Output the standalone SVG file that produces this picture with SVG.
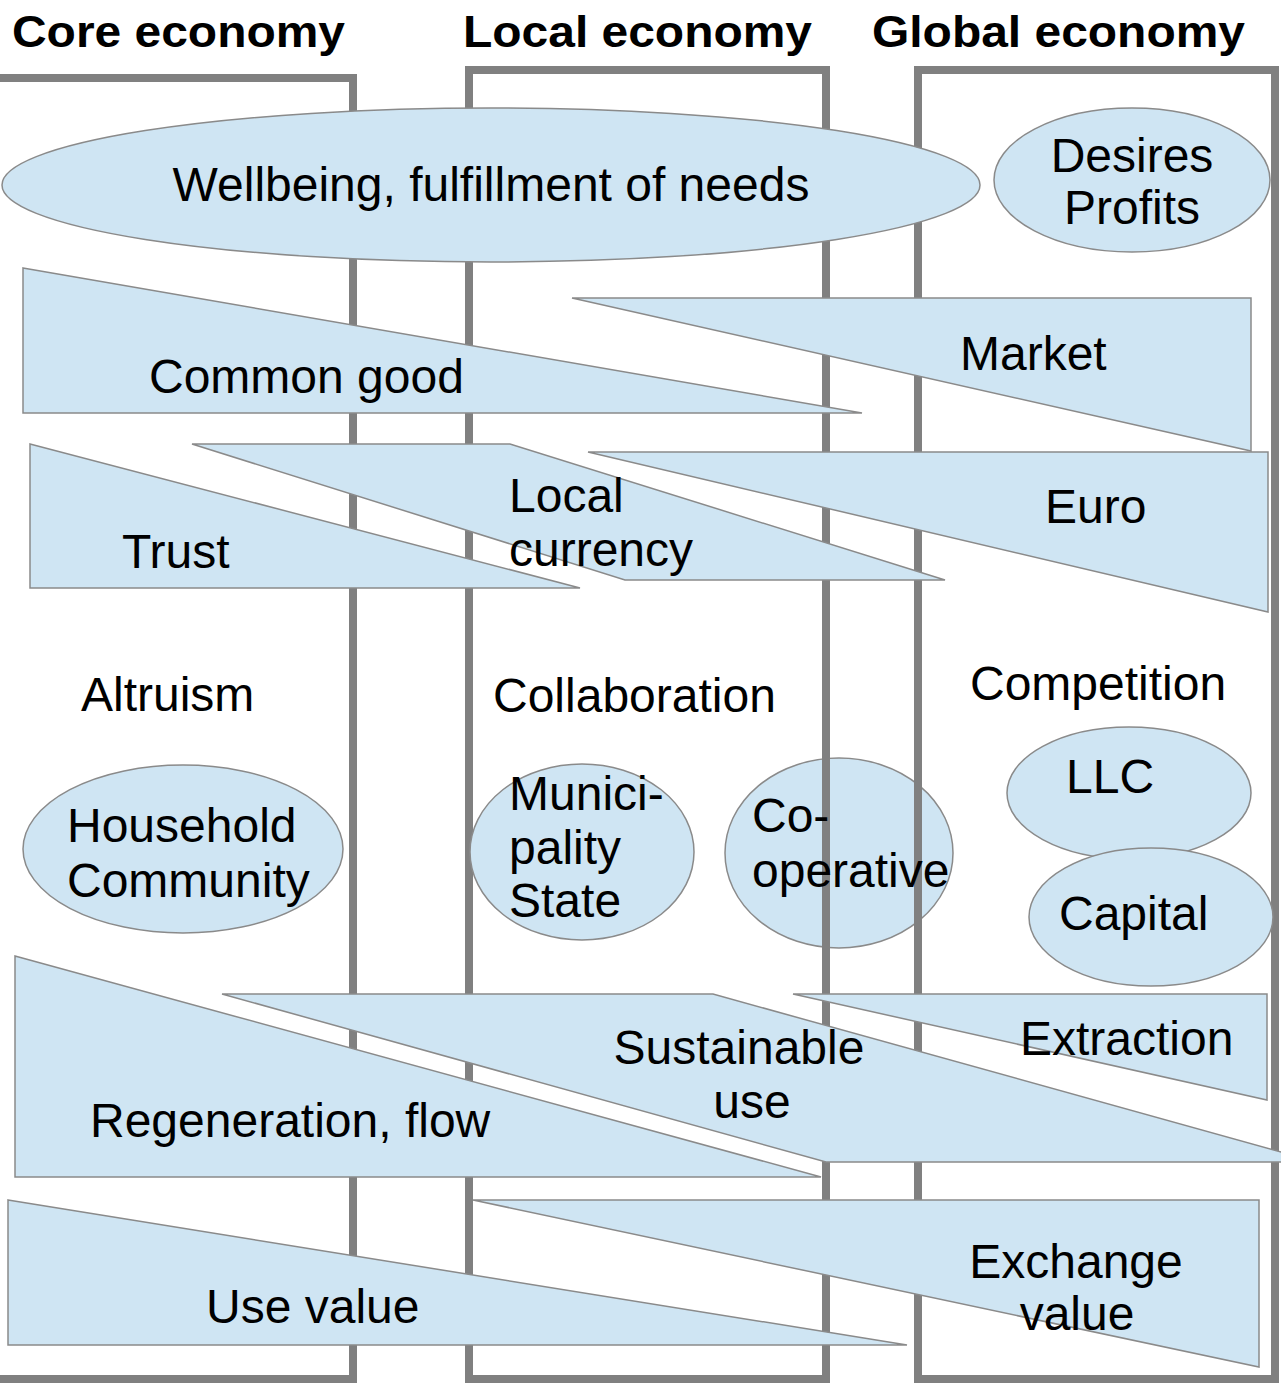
<svg xmlns="http://www.w3.org/2000/svg" width="1281" height="1383" viewBox="0 0 1281 1383">
<style>
.shape{fill:#cfe5f3;stroke:#8a8a8a;stroke-width:1.5}
.box{fill:none;stroke:#808080;stroke-width:8}
.t{font-family:"Liberation Sans",Arial,sans-serif;font-size:48px;fill:#000}
.h{font-family:"Liberation Sans",Arial,sans-serif;font-size:44px;font-weight:bold;fill:#000}
</style>
<rect width="1281" height="1383" fill="#fff"/>
<g id="cooperative-shape">
<ellipse class="shape" cx="839" cy="853" rx="114" ry="95"/>
</g>
<g id="boxes">
<path class="box" d="M-10 78 H353 V1379 H-10"/>
<rect class="box" x="469" y="70" width="357" height="1309"/>
<rect class="box" x="918" y="70" width="357" height="1309"/>
</g>
<g id="headers">
<text class="h" x="12" y="47" textLength="333" lengthAdjust="spacingAndGlyphs">Core economy</text>
<text class="h" x="463" y="47" textLength="349" lengthAdjust="spacingAndGlyphs">Local economy</text>
<text class="h" x="872" y="47" textLength="373" lengthAdjust="spacingAndGlyphs">Global economy</text>
</g>
<g id="wellbeing">
<ellipse class="shape" cx="491" cy="185" rx="489" ry="77"/>
<text class="t" x="491" y="201" text-anchor="middle">Wellbeing, fulfillment of needs</text>
</g>
<g id="desires">
<ellipse class="shape" cx="1132" cy="180" rx="138" ry="72"/>
<text class="t" x="1132" y="172" text-anchor="middle">Desires</text>
<text class="t" x="1132" y="224" text-anchor="middle">Profits</text>
</g>
<g id="common-good">
<polygon class="shape" points="23,268 862,413 23,413"/>
<text class="t" x="149" y="393">Common good</text>
</g>
<g id="market">
<polygon class="shape" points="572,298 1251,298 1251,451"/>
<text class="t" x="960" y="370">Market</text>
</g>
<g id="trust">
<polygon class="shape" points="30,444 580,588 30,588"/>
<text class="t" x="122" y="568">Trust</text>
</g>
<g id="euro">
<polygon class="shape" points="588,452 1268,452 1268,612"/>
<text class="t" x="1045" y="523">Euro</text>
</g>
<g id="local-currency">
<polygon class="shape" points="192,444 510,444 945,580 625,580"/>
<text class="t" x="509" y="512">Local</text>
<text class="t" x="509" y="566">currency</text>
</g>
<g id="altruism"><text class="t" x="81" y="711">Altruism</text></g>
<g id="collaboration"><text class="t" x="493" y="712">Collaboration</text></g>
<g id="competition"><text class="t" x="970" y="700">Competition</text></g>
<g id="household">
<ellipse class="shape" cx="183" cy="849" rx="160" ry="84"/>
<text class="t" x="67" y="842">Household</text>
<text class="t" x="67" y="897">Community</text>
</g>
<g id="municipality">
<ellipse class="shape" cx="582" cy="852" rx="112" ry="88"/>
<text class="t" x="509" y="810">Munici-</text>
<text class="t" x="509" y="864">pality</text>
<text class="t" x="509" y="917">State</text>
</g>
<g id="cooperative">
<text class="t" x="752" y="832">Co-</text>
<text class="t" x="752" y="887">operative</text>
</g>
<g id="llc">
<ellipse class="shape" cx="1129" cy="793" rx="122" ry="66"/>
<text class="t" x="1066" y="793">LLC</text>
</g>
<g id="capital">
<ellipse class="shape" cx="1151" cy="917" rx="122" ry="69"/>
<text class="t" x="1059" y="930">Capital</text>
</g>
<g id="regeneration">
<polygon class="shape" points="15,956 821,1177 15,1177"/>
<text class="t" x="90" y="1137">Regeneration, flow</text>
</g>
<g id="sustainable">
<polygon class="shape" points="222,994 713,994 1317,1162 826,1162"/>
<text class="t" x="739" y="1064" text-anchor="middle">Sustainable</text>
<text class="t" x="752" y="1118" text-anchor="middle">use</text>
</g>
<g id="extraction">
<polygon class="shape" points="793,994 1267,994 1267,1100"/>
<text class="t" x="1020" y="1055">Extraction</text>
</g>
<g id="use-value">
<polygon class="shape" points="8,1200 907,1345 8,1345"/>
<text class="t" x="206" y="1323">Use value</text>
</g>
<g id="exchange-value">
<polygon class="shape" points="473,1200 1259,1200 1259,1367"/>
<text class="t" x="1076" y="1278" text-anchor="middle">Exchange</text>
<text class="t" x="1077" y="1330" text-anchor="middle">value</text>
</g>
<g id="connectors"></g>
</svg>
